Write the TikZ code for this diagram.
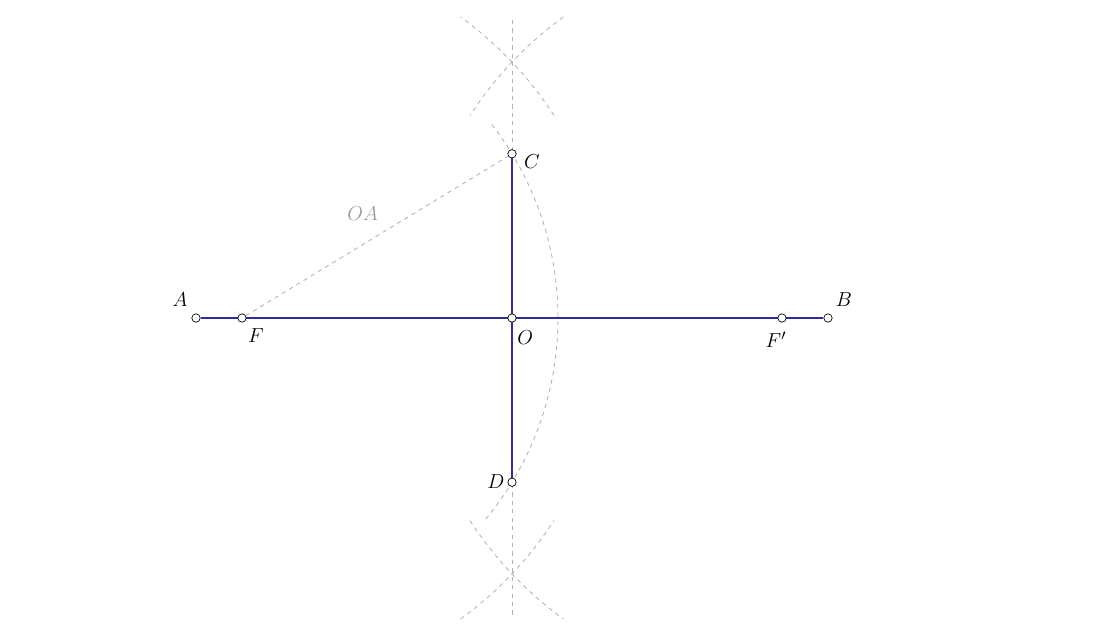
\documentclass[tikz,border=0pt]{standalone}
\usepackage{tikz}
\usetikzlibrary{positioning,backgrounds}

\definecolor{segblue}{RGB}{45,45,160}

\begin{document}
\begin{tikzpicture}[
		pt/.style={circle,draw=black,fill=white,line width=0.5pt,inner sep=0pt,minimum size=0.21cm},
		seg/.style={segblue,line width=1.3pt},
		constr/.style={gray!60,line width=0.6pt,dash pattern=on 3pt off 3pt},
		lbl/.style={font=\fontsize{15.5}{18}\selectfont}
	]
	\useasboundingbox (-12.8,-7.8) rectangle (15.2,7.95);
	% points of the figure
	\node[pt] (A) at (-7.9,0) {};
	\node[pt] (B) at (7.9,0) {};
	\node[pt] (F) at (-6.75,0) {};
	\node[pt] (Fp) at (6.75,0) {};
	\node[pt] (O) at (0,0) {};
	\node[pt] (C) at (0,4.105) {};
	\node[pt] (D) at (0,-4.105) {};
	% labels
	\node[lbl] (lA) at (-8.3,0.45) {$A$};
	\node[lbl] (lF) at (-6.4,-0.45) {$F$};
	\node[lbl] (lFp) at (6.6,-0.55) {$F'$};
	\node[lbl] (lB) at (8.3,0.45) {$B$};
	\node[lbl] (lC) at (0.5,3.9) {$C$};
	\node[lbl] (lO) at (0.33,-0.48) {$O$};
	\node[lbl] (lD) at (-0.4,-4.1) {$D$};
	\begin{scope}[on background layer]
		% construction lines
		\draw[constr] (0,7.45) coordinate (top) -- (0,-7.43) coordinate (bot);
		\draw[constr] (F.center) ++(33:9.3) arc[start angle=33,end angle=54,radius=9.3];
		\draw[constr] (Fp.center) ++(126:9.3) arc[start angle=126,end angle=147,radius=9.3];
		\draw[constr] (F.center) ++(-54:9.3) arc[start angle=-54,end angle=-33,radius=9.3];
		\draw[constr] (Fp.center) ++(-147:9.3) arc[start angle=-147,end angle=-126,radius=9.3];
		\draw[constr] (F.center) ++(-39.5:7.9) arc[start angle=-39.5,end angle=38.5,radius=7.9];
		\draw[constr] (F) -- node[above left=0.25cm and -0.15cm,text=gray!80,lbl] (oa) {$OA$} (C);
		% axes
		\draw[seg] (A) -- (B);
		\draw[seg] (C) -- (D);
	\end{scope}
\end{tikzpicture}
\end{document}
